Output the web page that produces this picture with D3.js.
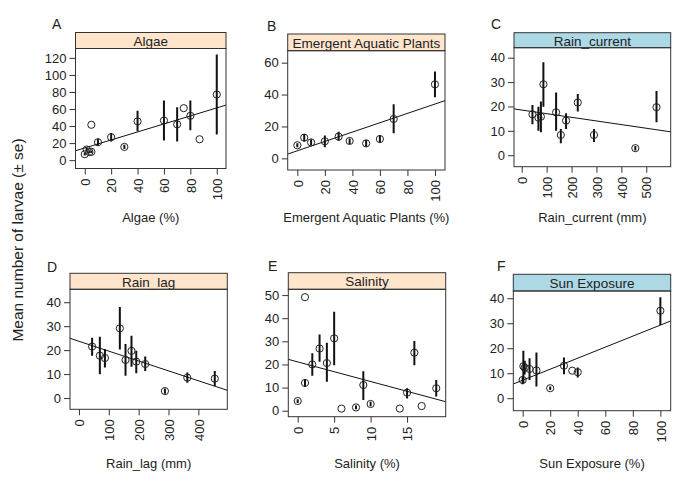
<!DOCTYPE html>
<html><head><meta charset="utf-8">
<script src="https://cdn.jsdelivr.net/npm/d3@7"></script>
<style>
body{margin:0;background:#fff;}
text{font-family:"Liberation Sans",Arial,Helvetica,sans-serif;fill:#222;}
</style></head>
<body><svg id="chart" width="685" height="484"></svg>
<script>
// ---------- data ----------
const panelLetters = ["A","B","C","D","E","F"];
const stripLabels = ["Algae","Emergent Aquatic Plants","Rain_current","Rain_lag","Salinity","Sun Exposure"];
const axisTitles = ["Algae (%)","Emergent Aquatic Plants (%)","Rain_current (mm)","Rain_lag (mm)","Salinity (%)","Sun Exposure (%)"];
const yLabel = "Mean number of larvae (± se)";

const algaeX  = [0,1.5,3.5,5,5,10,20,30,40,60,70,75,80,87,100];
const algaeY  = [7,12.5,9.5,9.8,41.5,21,27,15.5,45.5,46.5,42,61,52,24.5,77];
const algaeLo = [5.5,10.5,8,8.3,null,17,22,13,34,23,22,null,35,null,30];
const algaeHi = [8.5,14.5,11,11.3,null,25,32,18,58,70,62,null,70,null,124];

const emergentX  = [0,5,10,20,30,38,50,60,70,100];
const emergentY  = [8.2,13,10,10.7,13.6,10.9,9.4,12.1,24.7,46.4];
const emergentLo = [7,10.5,8.4,6.9,11,9,7.3,10,15.7,38.3];
const emergentHi = [9.4,15.3,12,14.4,16.7,12.5,11.5,14.6,33.9,54.4];

const rainCurX  = [43,67,77,87,138,157,178,225,290,456,541];
const rainCurY  = [16.8,15.4,15.8,29.1,17.6,8.3,14.2,21.6,8.3,2.9,19.7];
const rainCurLo = [12.7,10,9.4,19.9,10,4.9,10.8,17.9,5.4,1.9,13.5];
const rainCurHi = [20.6,19.9,22,38.1,25.7,10.8,17.2,25.1,10.8,3.8,26.3];

const rainLagX  = [44,70,87,137,156,176,192,222,288,363,455];
const rainLagY  = [21.5,17.7,16.7,29.1,15.9,19.7,15.2,14.2,2.9,8.5,8.1];
const rainLagLo = [17.7,9.9,12.7,20.3,9.3,13.1,10.3,11.3,1.8,6.4,5];
const rainLagHi = [25.2,25.6,20.5,38,22.6,26,19.7,17.3,4,10.7,11.3];

const salX  = [0,1,1,2,3,4,5,6,8,9,10,14,15,16,17,19];
const salY  = [4.2,49.1,12,20,26.9,20.6,31.3,0.9,1.4,11.1,2.9,0.9,7.8,25.1,2,9.7];
const salLo = [3.3,null,10.4,15.1,21.2,12.5,19.7,null,0.6,4.6,1.9,null,5.3,19.7,null,6.1];
const salHi = [5,null,13.3,24.8,33,29.4,42.8,null,2.2,17.1,3.9,null,9.7,30.1,null,13.3];

const sunX  = [0,0.5,1.5,5,10,20,30,36,40,100];
const sunY  = [7.3,12.8,12.2,11.7,11.1,4,13,11,10.4,35];
const sunLo = [5.6,6,9.5,7.3,4.7,3.3,9.6,null,8.3,29.3];
const sunHi = [8.7,19,15,16,18.3,4.7,16.3,null,12.3,40.4];

const lineIntercept = [14.3,4.75,18.54,23.7,21.1,7.2];
const lineSlope     = [0.47,0.293,-0.01494,-0.0412,-0.848,0.2205];

const xTicks = [[0,20,40,60,80,100],[0,20,40,60,80,100],[0,100,200,300,400,500],[0,100,200,300,400],[0,5,10,15],[0,20,40,60,80,100]];
const yTicks = [[0,20,40,60,80,100,120],[0,20,40,60],[0,10,20,30,40],[0,10,20,30,40],[0,10,20,30,40,50],[0,10,20,30,40]];

// ---------- layout (positions / styles) ----------
const xDomains = [[-7,107],[-7,107.3],[-31,598],[-30,497],[-1.29,20.3],[-6.8,107.5]];
const yDomains = [[-9.8,131],[-7.3,67.5],[-4.7,44.1],[-4.7,45.4],[-2.6,52.5],[-5,42.9]];
const boxes = [
 {x0:75.5,x1:226,st:32.5,pt:48.5,pb:168.5,lx:52,ly:29,ty:222},
 {x0:287.7,x1:445,st:34,pt:50.7,pb:170,lx:267,ly:31,ty:222},
 {x0:514,x1:670.7,st:32.7,pt:47.7,pb:166.7,lx:491,ly:29,ty:222},
 {x0:70,x1:227.3,st:273.3,pt:289.3,pb:409.3,lx:47,ly:272,ty:468},
 {x0:288.3,x1:445.7,st:272.7,pt:289.3,pb:416.7,lx:268,ly:271,ty:468},
 {x0:513.3,x1:670.7,st:274.3,pt:291,pb:410.7,lx:497,ly:271,ty:468}
];
const stripColors = ["#ffe5cc","#ffe5cc","#add8e6","#ffe5cc","#ffe5cc","#add8e6"];

const series = [
 {x:algaeX,y:algaeY,lo:algaeLo,hi:algaeHi},
 {x:emergentX,y:emergentY,lo:emergentLo,hi:emergentHi},
 {x:rainCurX,y:rainCurY,lo:rainCurLo,hi:rainCurHi},
 {x:rainLagX,y:rainLagY,lo:rainLagLo,hi:rainLagHi},
 {x:salX,y:salY,lo:salLo,hi:salHi},
 {x:sunX,y:sunY,lo:sunLo,hi:sunHi}
];

const svg = d3.select("#chart");
svg.append("rect").attr("width",685).attr("height",484).attr("fill","#fff");

series.forEach((s,i)=>{
  const b = boxes[i];
  const x = d3.scaleLinear().domain(xDomains[i]).range([b.x0,b.x1]);
  const y = d3.scaleLinear().domain(yDomains[i]).range([b.pb,b.pt]);
  const g = svg.append("g");
  const pts = s.x.map((xv,k)=>({x:xv,y:s.y[k],lo:s.lo[k],hi:s.hi[k]}));

  const cid = "clip"+i;
  svg.append("clipPath").attr("id",cid).append("rect")
    .attr("x",b.x0).attr("y",b.pt).attr("width",b.x1-b.x0).attr("height",b.pb-b.pt);

  // strip
  g.append("rect").attr("x",b.x0).attr("y",b.st).attr("width",b.x1-b.x0).attr("height",b.pt-b.st)
    .attr("fill",stripColors[i]).attr("stroke","#333").attr("stroke-width",1);
  g.append("text").attr("x",(b.x0+b.x1)/2).attr("y",(b.st+b.pt)/2).attr("dy","0.4em")
    .attr("text-anchor","middle").style("font-size","13.5px").text(stripLabels[i]);

  // axes
  const ya = g.append("g").attr("transform",`translate(${b.x0},0)`)
    .call(d3.axisLeft(y).tickValues(yTicks[i]).tickSize(6).tickPadding(3));
  ya.select(".domain").remove();
  ya.selectAll("text").style("font-size","13px").style("font-family","Liberation Sans, Arial, sans-serif").attr("fill","#222");
  ya.selectAll("line").attr("stroke","#333");

  const xa = g.append("g").attr("transform",`translate(0,${b.pb})`)
    .call(d3.axisBottom(x).tickValues(xTicks[i]).tickSize(6));
  xa.select(".domain").remove();
  xa.selectAll("line").attr("stroke","#333");
  xa.selectAll("text").attr("transform","rotate(-90)").attr("x",-10).attr("y",0).attr("dy","0.36em")
    .attr("text-anchor","end").style("font-size","13px").style("font-family","Liberation Sans, Arial, sans-serif").attr("fill","#222");

  // plot box
  g.append("rect").attr("x",b.x0).attr("y",b.pt).attr("width",b.x1-b.x0).attr("height",b.pb-b.pt)
    .attr("fill","none").attr("stroke","#333").attr("stroke-width",1);

  const pg = g.append("g").attr("clip-path",`url(#${cid})`);
  const xd = xDomains[i];
  pg.append("line")
    .attr("x1",x(xd[0])).attr("y1",y(lineIntercept[i]+lineSlope[i]*xd[0]))
    .attr("x2",x(xd[1])).attr("y2",y(lineIntercept[i]+lineSlope[i]*xd[1]))
    .attr("stroke","#111").attr("stroke-width",1);
  pg.selectAll(".eb").data(pts.filter(d=>d.lo!=null)).join("line")
    .attr("x1",d=>x(d.x)).attr("x2",d=>x(d.x)).attr("y1",d=>y(d.lo)).attr("y2",d=>y(d.hi))
    .attr("stroke","#111").attr("stroke-width",2);
  pg.selectAll(".pt").data(pts).join("circle")
    .attr("cx",d=>x(d.x)).attr("cy",d=>y(d.y)).attr("r",3.6)
    .attr("fill","none").attr("stroke","#222").attr("stroke-width",1);

  svg.append("text").attr("x",b.lx).attr("y",b.ly).style("font-size","14px").text(panelLetters[i]);
  svg.append("text").attr("x",(b.x0+b.x1)/2).attr("y",b.ty).attr("text-anchor","middle")
    .style("font-size","13px").text(axisTitles[i]);
});

svg.append("text").attr("transform","translate(17,240) rotate(-90)").attr("text-anchor","middle")
  .attr("dy","0.36em").style("font-size","15.5px").text(yLabel);
</script></body></html>
